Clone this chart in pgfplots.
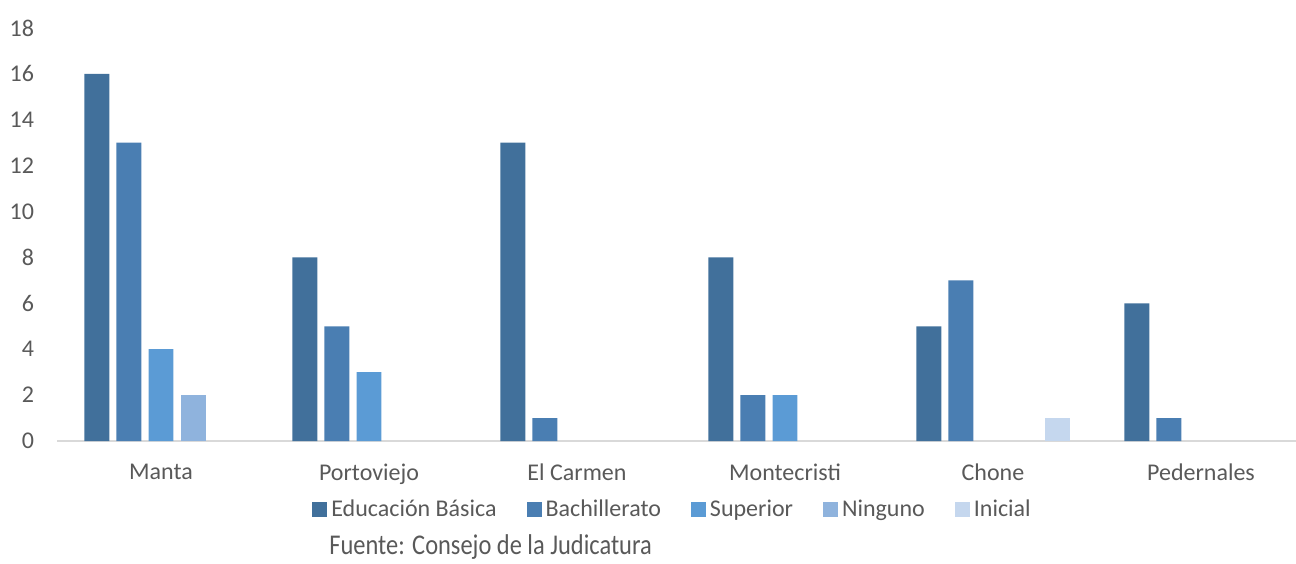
\documentclass[border=0pt]{standalone}
\usepackage{pgfplots}
\pgfplotsset{compat=1.18}
\usepackage{fontspec}
\setmainfont{Carlito}
\definecolor{cA}{HTML}{41709B}
\definecolor{cB}{HTML}{4A7EB2}
\definecolor{cC}{HTML}{5B9BD5}
\definecolor{cD}{HTML}{8FB3DD}
\definecolor{cE}{HTML}{C5D7EE}
\definecolor{txt}{HTML}{595959}
\definecolor{axl}{HTML}{D9D9D9}
\begin{document}
\begin{tikzpicture}
\begin{axis}[
  scale only axis,
  width=624pt, height=206.5pt,
  xmin=-0.5, xmax=5.5,
  ymin=0, ymax=18,
  ytick={0,2,...,18},
  xtick={0,...,5},
  xticklabels={Manta,Portoviejo,El Carmen,Montecristi,Chone,Pedernales},
  major tick length=0pt,
  axis x line*=bottom,
  axis y line*=left,
  y axis line style={draw=none},
  x axis line style={draw=axl, line width=1pt, -},
  ticklabel style={font=\fontsize{12}{14}\selectfont, text=txt},
  /pgf/number format/assume math mode=true,
  yticklabel style={xshift=-8pt},
  xticklabel style={yshift=-8pt},
  ybar, bar width=0.12,
  legend style={at={(0.494,-0.167)}, anchor=center, draw=none,
    legend columns=-1, font=\fontsize{12}{14}\selectfont, text=txt,
    /tikz/every even column/.append style={column sep=13pt},
    legend cell align=left, inner sep=0pt},
  legend image code/.code={\fill[#1] (0pt,-3.75pt) rectangle (7.5pt,3.75pt);},
]
\addplot[fill=cA, draw=none, bar shift=-0.308] coordinates {(0,16) (1,8) (2,13) (3,8) (4,5) (5,6)};
\addplot[fill=cB, draw=none, bar shift=-0.154] coordinates {(0,13) (1,5) (2,1) (3,2) (4,7) (5,1)};
\addplot[fill=cC, draw=none, bar shift=0] coordinates {(0,4) (1,3) (3,2)};
\addplot[fill=cD, draw=none, bar shift=0.154] coordinates {(0,2)};
\addplot[fill=cE, draw=none, bar shift=0.308] coordinates {(4,1)};
\legend{Educación Básica,Bachillerato,Superior,Ninguno,Inicial}
\end{axis}
\node[anchor=west, text=txt, font=\fontsize{13}{15}\selectfont, inner sep=0pt] at (136pt,-53pt) {\scalebox{0.94}[1.1]{Fuente: Consejo de la Judicatura}};
\pgfresetboundingbox
\path (-28.5pt,-61pt) rectangle (619.5pt,220.5pt);
\end{tikzpicture}
\end{document}
